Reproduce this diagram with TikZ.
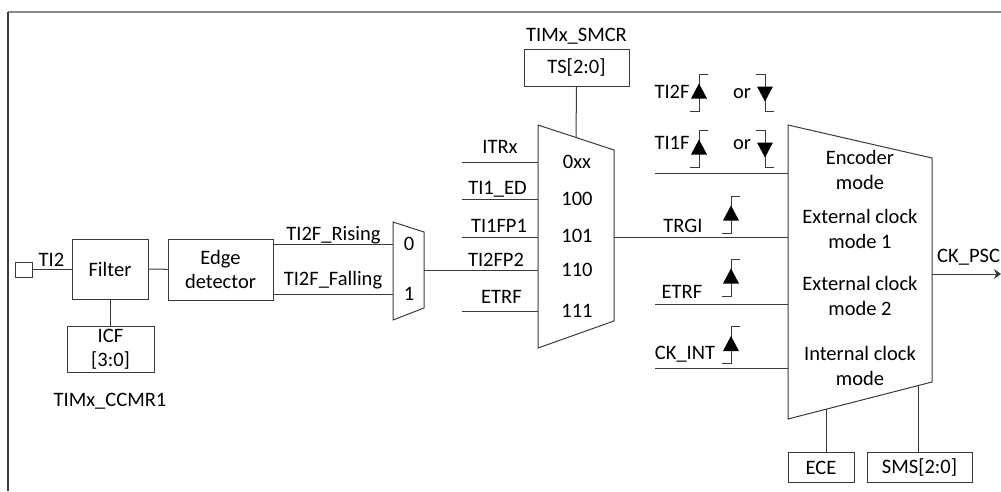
\documentclass[tikz,border=0pt]{standalone}
\usepackage{fontspec}
\setmainfont{Carlito}
\usetikzlibrary{arrows.meta,calc,positioning}
\definecolor{WireGray}{HTML}{3A3A3A}
\definecolor{FrameGray}{HTML}{8A8A8A}

\tikzset{
  blk/.style={draw=WireGray, line width=1pt, inner sep=0pt, align=center},
  wire/.style={draw=WireGray, line width=1pt},
  lbl/.style={inner sep=0pt, anchor=base},
  modetxt/.style={inner sep=0pt, align=center},
  risedge/.pic={
    \draw[wire] (9,-18.5) -- (0,-18.5) -- (0,18.5) -- (-9,18.5);
    \fill[black] (0,-9) -- (8,6) -- (-8,6) -- cycle;
  },
  falledge/.pic={
    \draw[wire] (-9,-18.5) -- (0,-18.5) -- (0,18.5) -- (9,18.5);
    \fill[black] (0,9) -- (8,-6) -- (-8,-6) -- cycle;
  },
}

\begin{document}
\begin{tikzpicture}[x=1pt,y=-1pt,font=\fontsize{20.5}{24.5}\selectfont]
  \useasboundingbox (0,0) rectangle (1001,491);

  % frame
  \draw[FrameGray, line width=1.8pt] (1001,12) -- (8,12);
  \draw[WireGray, line width=1.2pt] (8,12) -- (8,491);

  % input stage
  \node[blk, minimum width=17pt, minimum height=15pt] (pad) at (24,269.5) {};
  \node[blk, minimum width=76pt, minimum height=60pt] (filt) at (110,269) {Filter};
  \node[blk, minimum width=105pt, minimum height=61pt] (edge) at (220.5,269.5) {Edge\\detector};
  \node[blk, minimum width=87pt, minimum height=46pt] (icf) at (110.5,349) {ICF\\{[3:0]}};
  \node[lbl] (ccmr) at (110,406.7) {TIMx\_CCMR1};
  \node[lbl] (tiTwo) at (51.5,266) {TI2};

  \draw[wire] (pad.east) -- (pad.east -| filt.west);
  \draw[wire] (filt) -- (edge);
  \draw[wire] (filt.south) -- (filt.south |- icf.north);

  % TI2F polarity mux
  \coordinate (m0tl) at (393,222);
  \coordinate (m0tr) at (424,232);
  \coordinate (m0br) at (424,308);
  \coordinate (m0bl) at (393,320);
  \draw[wire] (m0tl) -- (m0tr) -- (m0br) -- (m0bl) -- cycle;
  \node[lbl] (m0sZero) at (409,250) {0};
  \node[lbl] (m0sOne) at (409,300) {1};
  \coordinate (m0in0) at (393,244);
  \coordinate (m0in1) at (393,294);
  \coordinate (m0out) at (424,270);
  \draw[wire] (m0in0 -| edge.east) -- (m0in0);
  \draw[wire] (m0in1 -| edge.east) -- (m0in1);
  \node[lbl] (rising) at (333.5,240) {TI2F\_Rising};
  \node[lbl] (falling) at (333,285) {TI2F\_Falling};

  % trigger selection mux
  \node[blk, minimum width=105pt, minimum height=37pt] (ts) at (576.5,67.5) {TS[2:0]};
  \node[lbl] (smcr) at (576.5,41.3) {TIMx\_SMCR};
  \coordinate (m1tl) at (538,125);
  \coordinate (m1tr) at (614,150);
  \coordinate (m1br) at (614,321);
  \coordinate (m1bl) at (538,348);
  \draw[wire] (m1tl) -- (m1tr) -- (m1br) -- (m1bl) -- cycle;
  \draw[wire] (ts.south) -- ($(m1tl)!0.5!(m1tr)$);
  \foreach \n/\y in {0/162,1/199,2/237,4/311}{
    \coordinate (m1in\n) at (538,\y);
    \coordinate (m1src\n) at (462,\y);
    \draw[wire] (m1src\n) -- (m1in\n);
  }
  \coordinate (m1in3) at (538,270);
  \draw[wire] (m0out) -- (m1in3);
  \node[lbl] (itrx) at (500,153) {ITRx};
  \node[lbl] (tiOneEd) at (497.5,194.5) {TI1\_ED};
  \node[lbl] (tiOneFP) at (499,232) {TI1FP1};
  \node[lbl] (tiTwoFP) at (496,266) {TI2FP2};
  \node[lbl] (etrfA) at (501.5,303.5) {ETRF};
  \node[lbl] (selA) at (577,168) {0xx};
  \node[lbl] (selB) at (577,205.7) {100};
  \node[lbl] (selC) at (577,242.7) {101};
  \node[lbl] (selD) at (577,276.7) {110};
  \node[lbl] (selE) at (577,317.3) {111};

  % slave mode mux
  \coordinate (m2tl) at (788,125);
  \coordinate (m2tr) at (932,158);
  \coordinate (m2br) at (932,382);
  \coordinate (m2bl) at (788,419);
  \draw[wire] (m2tl) -- (m2tr) -- (m2br) -- (m2bl) -- cycle;
  \coordinate (m1out) at (614,237);
  \coordinate (m2in1) at (788,237);
  \draw[wire] (m1out) -- (m2in1);
  \foreach \n/\y in {0/173,2/304,3/368}{
    \coordinate (m2in\n) at (788,\y);
    \coordinate (m2src\n) at (655,\y);
    \draw[wire] (m2src\n) -- (m2in\n);
  }
  \node[modetxt] (encm) at (860,170) {Encoder\\mode};
  \node[modetxt] (extOne) at (860,229) {External clock\\mode 1};
  \node[modetxt] (extTwo) at (860,296) {External clock\\mode 2};
  \node[modetxt] (intm) at (860,366) {Internal clock\\mode};

  % edge markers
  \node[lbl] (tiTwoF) at (672,98.3) {TI2F};
  \node[lbl] (orA) at (742,98.3) {or};
  \node[lbl] (tiOneF) at (672,149.3) {TI1F};
  \node[lbl] (orB) at (742,149.3) {or};
  \node[lbl] (trgi) at (683,232) {TRGI};
  \node[lbl] (etrfB) at (682,298.3) {ETRF};
  \node[lbl] (ckint) at (685,359.3) {CK\_INT};
  \pic at (699,92.5) {risedge};
  \pic at (765,92.5) {falledge};
  \pic at (699,148.5) {risedge};
  \pic at (765,148.5) {falledge};
  \pic at (731,214.5) {risedge};
  \pic at (731,277.5) {risedge};
  \pic at (731,345) {risedge};

  % control bits and output
  \node[blk, minimum width=66pt, minimum height=30pt] (ece) at (821,467.5) {ECE};
  \node[blk, minimum width=105pt, minimum height=30pt] (sms) at (919.5,467.5) {SMS[2:0]};
  \coordinate (m2c0) at ($(m2bl)!0.264!(m2br)$);
  \coordinate (m2c1) at ($(m2bl)!0.903!(m2br)$);
  \draw[wire] (m2c0) -- (m2c0 |- ece.north);
  \draw[wire] (m2c1) -- (m2c1 |- sms.north);
  \coordinate (m2out) at (932,274);
  \coordinate (ckpsc) at (1001,274);
  \draw[wire, -{Stealth[length=7pt,width=10pt]}] (m2out) -- (ckpsc);
  \node[lbl, anchor=base west] (ckpscLbl) at (937,262) {CK\_PSC};
\end{tikzpicture}
\end{document}
